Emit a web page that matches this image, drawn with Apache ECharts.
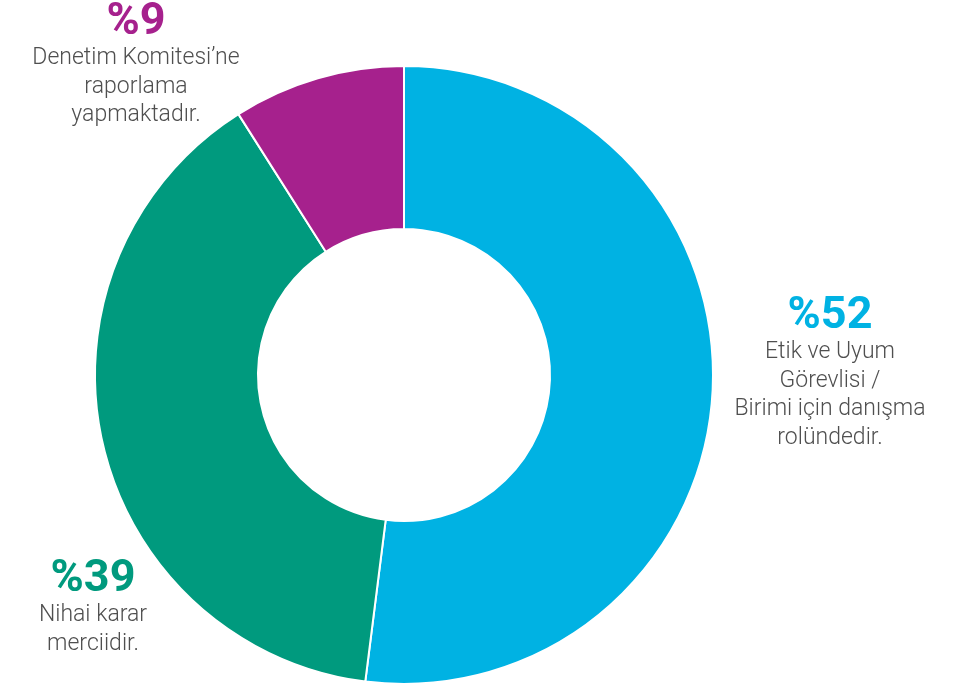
<!DOCTYPE html>
<html>
<head>
<meta charset="utf-8">
<script src="https://cdn.jsdelivr.net/npm/echarts@6/dist/echarts.min.js"></script>
<style>
  html, body { margin: 0; padding: 0; background: #fff; }
  #chart { width: 963px; height: 687px; }
</style>
</head>
<body>
<div id="chart"></div>
<script>
// Dilimler: saat yönünde, tepeden başlayarak
const categories = [
  'Etik ve Uyum\nGörevlisi /\nBirimi için danışma\nrolündedir.',
  'Nihai karar\nmerciidir.',
  'Denetim Komitesi’ne\nraporlama\nyapmaktadır.'
];
const values = [52, 39, 9];
const colors = ['#00b2e3', '#009a7e', '#a6218d'];

// Etiket konumları (metin bloğunun üst-orta noktası)
const labelSpots = [[830, 296], [93, 559], [136, 2]];

const chart = echarts.init(document.getElementById('chart'));

chart.setOption({
  animation: false,
  series: [{
    type: 'pie',
    center: [404, 375],
    radius: [146, 309],
    startAngle: 90,
    clockwise: true,
    avoidLabelOverlap: false,
    itemStyle: { borderColor: '#fff', borderWidth: 2 },
    labelLine: { show: false },
    emphasis: { disabled: true },
    label: {
      show: true,
      position: 'outside',
      align: 'center',
      formatter: p => {
        const desc = categories[p.dataIndex].split('\n').map(s => '{t|' + s + '}').join('\n');
        return '{p' + p.dataIndex + '|%' + p.value + '}\n' + desc;
      },
      rich: {
        p0: { fontFamily: 'Roboto', fontWeight: 'bold', fontSize: 45, lineHeight: 42, color: colors[0] },
        p1: { fontFamily: 'Roboto', fontWeight: 'bold', fontSize: 45, lineHeight: 42, color: colors[1] },
        p2: { fontFamily: 'Roboto', fontWeight: 'bold', fontSize: 45, lineHeight: 42, color: colors[2] },
        t: { fontFamily: 'Roboto', fontWeight: 300, fontSize: 23, lineHeight: 28.5, color: '#4f4f4f' }
      }
    },
    labelLayout: params => ({
      x: labelSpots[params.dataIndex][0],
      y: labelSpots[params.dataIndex][1],
      align: 'center',
      verticalAlign: 'top'
    }),
    data: categories.map((c, i) => ({
      name: c,
      value: values[i],
      itemStyle: { color: colors[i] }
    }))
  }]
});
</script>
</body>
</html>
